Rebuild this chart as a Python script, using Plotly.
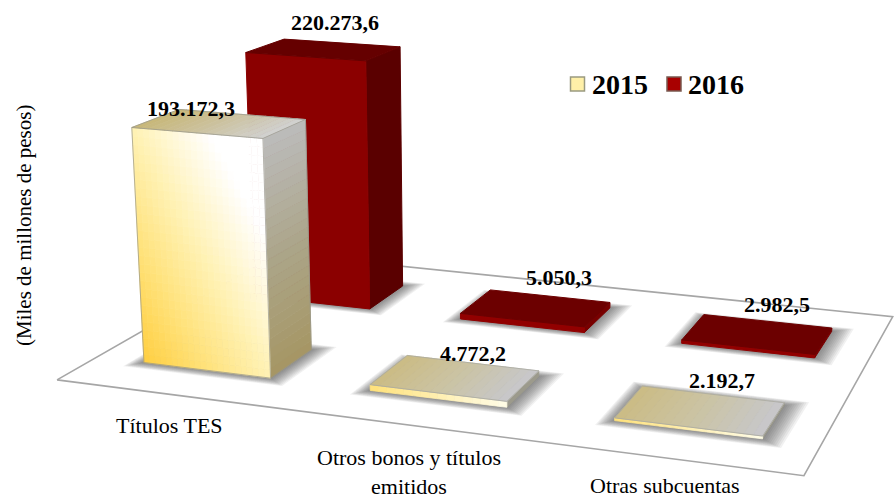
import numpy as np
import plotly.graph_objects as go

categories = ["Títulos TES", "Otros bonos y títulos<br>emitidos", "Otras subcuentas"]
series_names = ["2015", "2016"]
values_2015 = [193172.3, 4772.2, 2192.7]
values_2016 = [220273.6, 5050.3, 2982.5]
vals = [values_2015, values_2016]
labels_2015 = ["193.172,3", "4.772,2", "2.192,7"]
labels_2016 = ["220.273,6", "5.050,3", "2.982,5"]
ZMAX = 250000.0
W, H = 894, 498

# oblique projection of the pseudo-3D chart: (category, series depth, value/ZMAX) -> page axes
Pm = np.array([[218.291, 142.418, -22.5513, 57.0249],
               [13.7916, -33.8817, -318.585, 379.85],
               [-0.0381626, 0.115482, -0.0480335, 1.0]])
bw, bd = 0.568632, 0.384687

def proj(X):
    X = np.atleast_2d(X)
    h = np.c_[X, np.ones(len(X))] @ Pm.T
    return h[:, :2] / h[:, 2:]

fig = go.Figure()

def poly(X, fill, line=None, lw=1):
    p = proj(np.array(X))
    xs = list(p[:, 0]) + [p[0, 0]]
    ys = list(p[:, 1]) + [p[0, 1]]
    fig.add_trace(go.Scatter(x=xs, y=ys, mode="lines", fill="toself", fillcolor=fill,
                             line=dict(color=line or fill, width=lw), hoverinfo="skip", showlegend=False))

def seg(X, color, width=1):
    p = proj(np.array(X))
    fig.add_trace(go.Scatter(x=p[:, 0], y=p[:, 1], mode="lines", line=dict(color=color, width=width),
                             hoverinfo="skip", showlegend=False))

def face(A, B, C, D, cf, nu=1, nv=1):
    A, B, C, D = map(np.array, (A, B, C, D))
    for a in range(nu):
        for b in range(nv):
            pts = []
            for u, v in [(a/nu, b/nv), ((a+1)/nu, b/nv), ((a+1)/nu, (b+1)/nv), (a/nu, (b+1)/nv)]:
                pts.append((1-v)*((1-u)*A+u*B) + v*((1-u)*D+u*C))
            poly(pts, cf((a+.5)/nu, (b+.5)/nv), lw=.8)

def hexrgb(h):
    return np.array([int(h[i:i+2], 16) for i in (1, 3, 5)], float)

def ramp(stops):
    ts = [s[0] for s in stops]
    cs = np.array([hexrgb(s[1]) for s in stops])
    def f(t):
        c = [np.interp(t, ts, cs[:, k]) for k in range(3)]
        return "rgb(%d,%d,%d)" % tuple(c)
    return f

front_y = ramp([(0, "#FFCF40"), (.25, "#FFE27A"), (.5, "#FFF2B4"), (.8, "#FFFFFF"), (1, "#FFFFFF")])
side_y = ramp([(0, "#A69664"), (.5, "#ACA68A"), (1, "#BCBCBC")])
top_y = ramp([(0, "#C8B878"), (.5, "#CCC2A0"), (1, "#D2D2D2")])
sl_top = ramp([(0, "#CCBC84"), (.5, "#CBC4A4"), (1, "#C8C8CC")])
sl_front = ramp([(0, "#FFE27A"), (1, "#FFFDE8")])

# floor outline
seg([[0, 0, 0], [3, 0, 0], [3, 2, 0], [0, 2, 0], [0, 0, 0]], "#A6A6A6", 1.6)

def shadow(i, j):
    x0, x1 = i+.5-bw/2, i+.5+bw/2
    y0, y1 = j+.5-bd/2, j+.5+bd/2
    for m in np.linspace(.07, .004, 11):
        poly([[x0-m*.8, y0-m, 0], [x1+m*1.2, y0-m, 0], [x1+m*1.2, y1+m, 0], [x0-m*.8, y1+m, 0]],
             "rgba(60,60,60,0.07)", line="rgba(0,0,0,0)", lw=0)

for j in (1, 0):
    for i in range(3):
        shadow(i, j)

def bar(i, j, val):
    x0, x1 = i+.5-bw/2, i+.5+bw/2
    y0, y1 = j+.5-bd/2, j+.5+bd/2
    z = val/ZMAX
    big = z > .1
    if j == 1:
        top = "#650000" if big else "#6C0000"
        fr = "#8B0000" if big else "#920000"
        si = "#5A0000" if big else "#780000"
        poly([[x1, y0, 0], [x1, y1, 0], [x1, y1, z], [x1, y0, z]], si)
        poly([[x0, y0, 0], [x1, y0, 0], [x1, y0, z], [x0, y0, z]], fr)
        poly([[x0, y0, z], [x1, y0, z], [x1, y1, z], [x0, y1, z]], top)
    elif big:
        face([x1, y0, 0], [x1, y1, 0], [x1, y1, z], [x1, y0, z], lambda u, v: side_y(v), 1, 24)
        face([x0, y0, 0], [x1, y0, 0], [x1, y0, z], [x0, y0, z], lambda u, v: front_y((u+v)/2), 22, 28)
        face([x0, y0, z], [x1, y0, z], [x1, y1, z], [x0, y1, z], lambda u, v: top_y(u), 16, 1)
        for a, b in [([x0, y0, 0], [x1, y0, 0]), ([x1, y0, 0], [x1, y1, 0]), ([x1, y1, 0], [x1, y1, z]),
                     ([x1, y1, z], [x0, y1, z]), ([x0, y1, z], [x0, y0, z]), ([x0, y0, z], [x0, y0, 0]),
                     ([x0, y0, z], [x1, y0, z]), ([x1, y0, z], [x1, y0, 0]), ([x1, y0, z], [x1, y1, z])]:
            seg([a, b], "rgba(150,150,140,0.7)")
    else:
        face([x1, y0, 0], [x1, y1, 0], [x1, y1, z], [x1, y0, z], lambda u, v: "#9C9A8C")
        face([x0, y0, 0], [x1, y0, 0], [x1, y0, z], [x0, y0, z], lambda u, v: sl_front(u), 16, 1)
        face([x0, y0, z], [x1, y0, z], [x1, y1, z], [x0, y1, z], lambda u, v: sl_top(u), 16, 1)
        seg([[x0, y0, z], [x1, y0, z], [x1, y1, z], [x0, y1, z], [x0, y0, z]], "rgba(170,170,160,0.8)")

for j in (1, 0):
    for i in range(3):
        bar(i, j, vals[j][i])

# legend swatches
for nm, x, c, lc in [(series_names[0], 577.5, "#FFF0A8", "#9A9A80"), (series_names[1], 674, "#A80000", "#7A5A50")]:
    fig.add_trace(go.Scatter(x=[x], y=[84], mode="markers", name=nm,
                             marker=dict(symbol="square", size=14, color=c, line=dict(color=lc, width=1.5)),
                             hoverinfo="skip", showlegend=False))

SERIF = "Liberation Serif"
LAB = {(0, 1): (335, 22), (0, 0): (191, 108), (1, 1): (559, 277), (1, 0): (473, 353), (2, 1): (777, 304), (2, 0): (722, 380)}
ann = []
for i in range(3):
    ann.append(dict(x=LAB[(i, 0)][0], y=LAB[(i, 0)][1], text=labels_2015[i],
                    font=dict(family=SERIF, size=22, color="black", weight="bold")))
    ann.append(dict(x=LAB[(i, 1)][0], y=LAB[(i, 1)][1], text=labels_2016[i],
                    font=dict(family=SERIF, size=22, color="black", weight="bold")))
for s, x in [(series_names[0], 620), (series_names[1], 716)]:
    ann.append(dict(x=x, y=84, text=s, font=dict(family=SERIF, size=28, color="black", weight="bold")))
for c, (x, y), sz in zip(categories, [(169, 425), (409, 472), (665, 485)], [22, 22, 22]):
    ann.append(dict(x=x, y=y, text=c, font=dict(family=SERIF, size=sz, color="black")))
ann.append(dict(x=24, y=226, text="(Miles de millones de pesos)", textangle=-90,
                font=dict(family=SERIF, size=21, color="black")))
for a in ann:
    a.update(xref="x", yref="y", showarrow=False)

fig.update_layout(width=W, height=H, margin=dict(l=0, r=0, t=0, b=0), showlegend=False,
                  paper_bgcolor="white", plot_bgcolor="white",
                  xaxis=dict(visible=False, range=[0, W], fixedrange=True),
                  yaxis=dict(visible=False, range=[H, 0], fixedrange=True),
                  annotations=ann)
fig.write_html("out.html", post_script="document.body.style.margin='0';", config={"displayModeBar": False})
